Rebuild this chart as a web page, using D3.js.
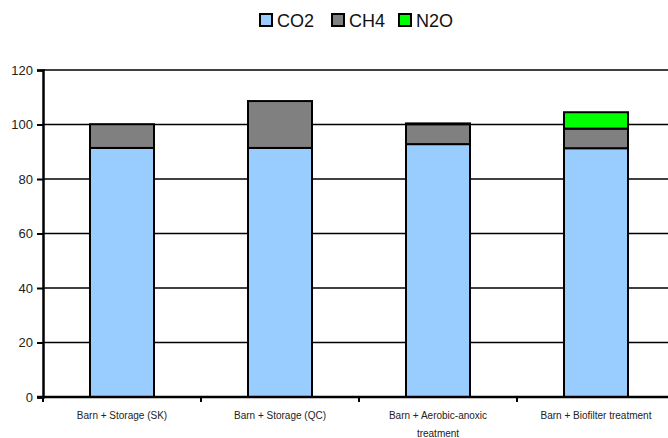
<!DOCTYPE html>
<html lang="en">
<head>
    <meta charset="UTF-8">
    <title>GHG stacked bars</title>
    <script src="https://d3js.org/d3.v7.min.js"></script>
    <style>
        body { margin: 0; background: #fff; }
        text { font-family: "Liberation Sans", Arial, sans-serif; }
    </style>
</head>
<body>

<script>
// chart values
const categories = ["Barn + Storage (SK)", "Barn + Storage (QC)", "Barn + Aerobic-anoxic treatment", "Barn + Biofilter treatment"];
const seriesNames = ["CO2", "CH4", "N2O"];
const co2 = [91.4, 91.4, 92.8, 91.3];
const ch4 = [8.7, 17.2, 7.3, 7.2];
const n2o = [0, 0, 0.3, 6.0];
const yTicks = [0, 20, 40, 60, 80, 100, 120];
const colors = ["#99ccff", "#808080", "#00ff00"];

const width = 668, height = 438;
const margin = {top: 70, right: -7, bottom: 41, left: 43};

const svg = d3.select("body").append("svg")
    .attr("width", width)
    .attr("height", height);

const rows = categories.map((c, i) => ({cat: c, CO2: co2[i], CH4: ch4[i], N2O: n2o[i]}));
const stacked = d3.stack().keys(seriesNames)(rows);

const x = d3.scaleBand()
    .domain(categories)
    .range([margin.left, width - margin.right])
    .paddingInner(0)
    .paddingOuter(0);

const y = d3.scaleLinear()
    .domain([0, 120])
    .range([height - margin.bottom, margin.top]);

// gridlines
svg.append("g")
    .selectAll("line")
    .data(yTicks.filter(t => t > 0))
    .enter().append("line")
    .attr("x1", margin.left)
    .attr("x2", width)
    .attr("y1", d => y(d))
    .attr("y2", d => y(d))
    .attr("stroke", "#000")
    .attr("stroke-width", 1.5);

// bars
const barW = 64;
svg.append("g")
    .selectAll("g")
    .data(stacked)
    .enter().append("g")
    .attr("fill", (d, i) => colors[i])
    .selectAll("rect")
    .data(d => d.filter(p => p[1] - p[0] > 0))
    .enter().append("rect")
    .attr("x", d => x(d.data.cat) + x.bandwidth() / 2 - barW / 2)
    .attr("width", barW)
    .attr("y", d => y(d[1]))
    .attr("height", d => y(d[0]) - y(d[1]))
    .attr("stroke", "#000")
    .attr("stroke-width", 2);

// y axis
const yAxis = svg.append("g")
    .attr("transform", "translate(" + margin.left + ",0)")
    .call(d3.axisLeft(y).tickValues(yTicks).tickSize(6).tickPadding(4));
yAxis.select(".domain").attr("stroke-width", 2.5);
yAxis.selectAll(".tick line").attr("stroke-width", 2);
yAxis.selectAll("text")
    .attr("font-size", 13)
    .attr("fill", "#222")
    .style("font-family", "Liberation Sans, Arial, sans-serif");

// x axis: ticks at category boundaries
const xAxis = svg.append("g")
    .attr("transform", "translate(0," + y(0) + ")");
xAxis.append("line")
    .attr("x1", margin.left - 6)
    .attr("x2", width)
    .attr("stroke", "#000")
    .attr("stroke-width", 2.5);
xAxis.selectAll(".bt")
    .data(categories)
    .enter().append("line")
    .attr("class", "bt")
    .attr("x1", d => x(d))
    .attr("x2", d => x(d))
    .attr("y1", 0)
    .attr("y2", 5)
    .attr("stroke", "#000")
    .attr("stroke-width", 2);

const labels = xAxis.selectAll(".lbl")
    .data(categories)
    .enter().append("text")
    .attr("class", "lbl")
    .attr("x", d => x(d) + x.bandwidth() / 2)
    .attr("y", 22)
    .attr("text-anchor", "middle")
    .attr("font-size", 10)
    .attr("fill", "#222")
    .text(d => d);

// wrap long labels
labels.each(function(d) {
    const t = d3.select(this);
    if (this.getComputedTextLength() > 140) {
        const words = d.split(" ");
        const first = words.slice(0, -1).join(" ");
        const last = words[words.length - 1];
        const cx = t.attr("x");
        t.text(null);
        t.append("tspan").attr("x", cx).attr("dy", 0).text(first);
        t.append("tspan").attr("x", cx).attr("dy", 18).text(last);
    }
});

// legend
const legX = [259, 331, 398];
const leg = svg.append("g");
seriesNames.forEach((s, i) => {
    leg.append("rect")
        .attr("x", legX[i] + 1)
        .attr("y", 14)
        .attr("width", 12)
        .attr("height", 12)
        .attr("fill", colors[i])
        .attr("stroke", "#000")
        .attr("stroke-width", 2);
    leg.append("text")
        .attr("x", legX[i] + 18)
        .attr("y", 27)
        .attr("font-size", 18)
        .attr("fill", "#111")
        .text(s);
});
</script>

</body>
</html>
